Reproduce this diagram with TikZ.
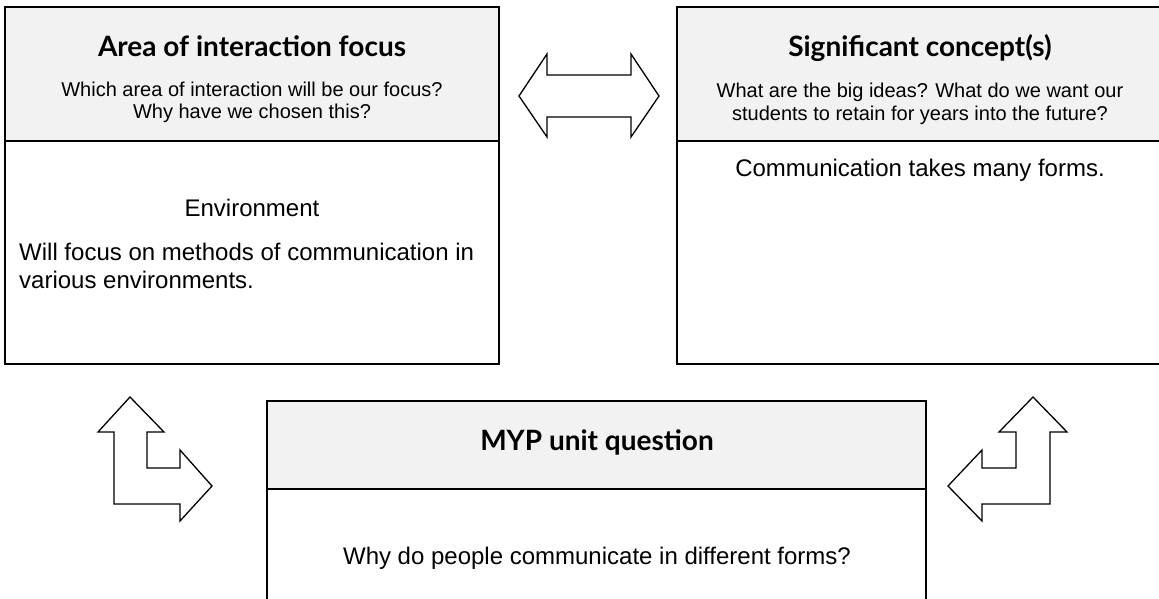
\documentclass[tikz,border=0pt]{standalone}
\usepackage{fontspec}
\setmainfont{Liberation Sans}
\newfontfamily\titlefont{Lato}
\usetikzlibrary{positioning}
\definecolor{hdrgray}{HTML}{F2F2F2}

\begin{document}
\begin{tikzpicture}[x=1pt, y=-1pt, line join=miter,
    box/.style={draw=black, line width=2pt},
    hdr/.style={fill=hdrgray},
    blockarrow/.style={draw=black, fill=white, line width=1.3pt},
    title/.style={anchor=base, inner sep=0pt, font=\titlefont\bfseries\fontsize{28}{32}\selectfont},
    ask/.style={anchor=base, inner sep=0pt, font=\fontsize{20}{22}\selectfont},
    body/.style={anchor=base, inner sep=0pt, font=\fontsize{24}{28}\selectfont}]
    \useasboundingbox (0,0) rectangle (1159,598);

    % area of interaction
    \fill[hdr] (5,7) rectangle (499,141);
    \draw[box] (5,7) rectangle (499,364);
    \draw[box] (5,141) -- (499,141);
    \node[title] (aoititle) at (252,56) {Area of interaction focus};
    \node[ask] (aoiask1) at (252,96) {Which area of interaction will be our focus?};
    \node[ask] (aoiask2) at (252,118) {Why have we chosen this?};
    \node[body] (aoienv) at (252,216) {Environment};
    \node[body, anchor=base west] (aoitext1) at (19,260) {Will focus on methods of communication in};
    \node[body, anchor=base west] (aoitext2) at (19,288) {various environments.};

    % significant concepts
    \fill[hdr] (677,7) rectangle (1161,141);
    \draw[box] (677,7) rectangle (1162,364);
    \draw[box] (677,141) -- (1161,141);
    \node[title] (sctitle) at (920,56) {Significant concept(s)};
    \node[ask] (scask1) at (920,97) {What are the big ideas? What do we want our};
    \node[ask] (scask2) at (920,120) {students to retain for years into the future?};
    \node[body] (sctext) at (920,176) {Communication takes many forms.};

    % unit question
    \fill[hdr] (267,401) rectangle (926,489);
    \draw[box] (267,601) -- (267,401) -- (926,401) -- (926,601);
    \draw[box] (267,489) -- (926,489);
    \node[title] (myptitle) at (597,450) {MYP unit question};
    \node[body] (myptext) at (597,564) {Why do people communicate in different forms?};

    % block arrows
    \draw[blockarrow] (519,96) -- (547,54) -- (547,75) -- (631,75) -- (631,54) -- (659,96)
        -- (631,137) -- (631,117) -- (547,117) -- (547,137) -- cycle;
    \draw[blockarrow] (114,504) -- (114,432) -- (98,432) -- (130,397) -- (164,432) -- (147,432)
        -- (147,468) -- (180,468) -- (180,450) -- (212,486) -- (180,521) -- (180,504) -- cycle;
    \draw[blockarrow] (1050,504) -- (1050,432) -- (1067,432) -- (1033,397) -- (999,432) -- (1016,432)
        -- (1016,468) -- (982,468) -- (982,450) -- (948,486) -- (982,521) -- (982,504) -- cycle;
\end{tikzpicture}
\end{document}
